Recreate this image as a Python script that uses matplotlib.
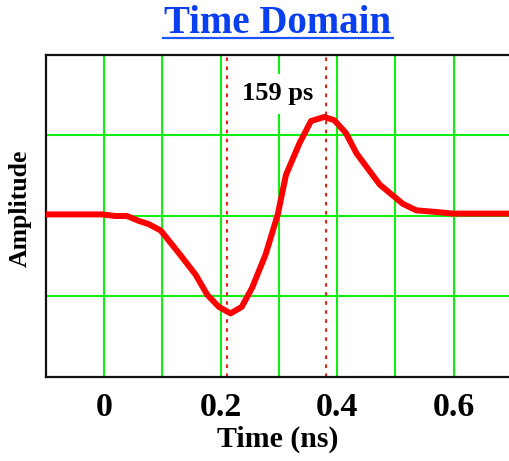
import matplotlib.pyplot as plt
from matplotlib.lines import Line2D

# pulse (time in ns, amplitude in grid units)
time_ns = [-0.1, -0.004, 0.019, 0.039, 0.059, 0.076, 0.097, 0.128, 0.157, 0.177,
           0.197, 0.217, 0.236, 0.254, 0.277, 0.298, 0.312, 0.335, 0.355, 0.378,
           0.395, 0.415, 0.433, 0.473, 0.513, 0.536, 0.570, 0.599, 0.7]
amplitude = [0.02, 0.02, 0.0, 0.0, -0.06, -0.1, -0.18, -0.46, -0.73, -0.98,
             -1.13, -1.21, -1.13, -0.89, -0.48, 0.02, 0.51, 0.90, 1.18, 1.23,
             1.19, 1.03, 0.78, 0.39, 0.15, 0.07, 0.05, 0.03, 0.03]

# markers for the minimum and the peak
marker_times = [0.211, 0.380]
marker_text = "159 ps"

xtick_vals = [0, 0.1, 0.2, 0.3, 0.4, 0.5, 0.6]
xtick_labels = ["0", "", "0.2", "", "0.4", "", "0.6"]

plt.rcParams['font.family'] = ['Liberation Serif', 'DejaVu Serif']
plt.rcParams['font.weight'] = 'bold'

fig = plt.figure(figsize=(5.09, 4.61), dpi=100)
ax = fig.add_axes([46/509, 84/461, 1 - 46/509, 322/461])

ax.set_xlim(-0.1, 0.695)
ax.set_ylim(-2, 2)
ax.set_xticks(xtick_vals)
ax.set_xticklabels(xtick_labels, fontsize=24.5, fontweight='bold')
ax.set_yticks([-1, 0, 1])
ax.set_yticklabels([])
ax.tick_params(length=0)
ax.tick_params(axis='x', pad=11)
ax.grid(True, color='#11ee11', linewidth=1.5)
ax.set_axisbelow(True)

for side in ['left', 'bottom', 'top']:
    ax.spines[side].set_linewidth(1.6)
    ax.spines[side].set_color('#111111')
ax.spines['right'].set_visible(False)

ax.plot(time_ns, amplitude, color='#ff0000', linewidth=4.3, solid_joinstyle='round', zorder=3)

for t in marker_times:
    ax.axvline(t, color='#ff0000', linestyle=(0, (2, 3)), linewidth=1.3, zorder=2)

ax.text(0.2975, 1.52, marker_text, fontsize=19, fontweight='bold', ha='center', va='center',
        bbox=dict(facecolor='white', edgecolor='none', pad=6), zorder=4)

ax.set_xlabel("Time (ns)", fontsize=21.5, fontweight='bold', labelpad=2)
ax.set_ylabel("Amplitude", fontsize=18.5, fontweight='bold')
ax.yaxis.set_label_coords(-0.03, 0.525)

# underlined blue title
fig.text(278/509, 1 - 33/461, "Time Domain", fontsize=28, fontweight='bold',
         color='#0a3ff0', ha='center', va='baseline')
fig.add_artist(Line2D([163/509, 393/509], [1 - 38.5/461, 1 - 38.5/461],
                      color='#1a55ff', linewidth=1.6))

plt.savefig('out.png', dpi=100)
